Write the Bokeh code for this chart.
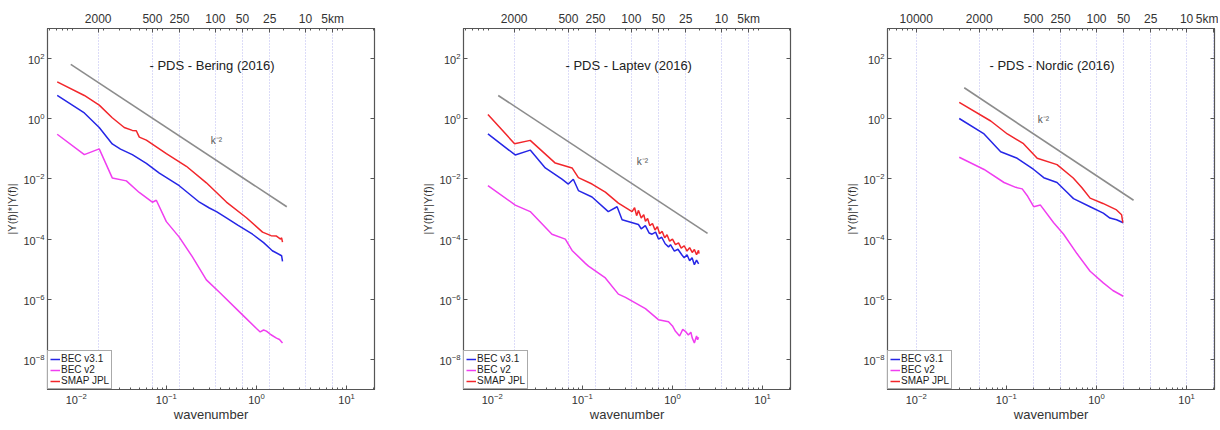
from bokeh.plotting import figure
from bokeh.models import (LogAxis, FixedTicker, CustomJSTickFormatter, Label,
                          Legend, LegendItem, Range1d, Spacer)
from bokeh.layouts import row, column
from bokeh.embed import file_html
from bokeh.resources import INLINE

FONT = "Liberation Sans"
C_BLUE = "#2626e6"
C_MAG = "#f03ef0"
C_RED = "#f2262b"
C_REF = "#8c8c8c"
AX = "#555555"

series_labels = ["BEC v3.1", "BEC v2", "SMAP JPL"]
panel_titles = ["- PDS - Bering (2016)", "- PDS - Laptev (2016)", "- PDS - Nordic (2016)"]
xlabel = "wavenumber"
ylabel = "|Y(f)|*|Y(f)|"
slope_label = "k\u207b\u00b2"

# top axis (wavelength in km) tick positions / labels
top_k_12 = [0.0175, 0.07, 0.14, 0.35, 0.7, 1.4, 3.5, 7.0]
top_lbl_12 = ["2000", "500", "250", "100", "50", "25", "10", "5km"]
top_k_3 = [0.01, 0.05, 0.2, 0.4, 1.0, 2.0, 4.0, 10.0, 20.0]
top_lbl_3 = ["10000", "2000", "500", "250", "100", "50", "25", "10", "5km"]

bottom_ticks = [0.01, 0.1, 1, 10]
y_ticks = [1e-8, 1e-6, 1e-4, 1e-2, 1, 1e2]

# ---------------- Bering ----------------
bering_v31_k = [0.00615, 0.0123, 0.018, 0.0251, 0.031, 0.0419, 0.06, 0.0836, 0.139, 0.233, 0.30, 0.36, 0.464, 0.62, 0.904, 1.2, 1.5, 1.9, 1.945]
bering_v31_y = [5.94, 1.56, 0.513, 0.145, 0.098, 0.064, 0.0328, 0.0156, 0.00594, 0.00168, 0.00108, 0.00082, 5.1e-4, 2.9e-4, 1.45e-4, 7.6e-5, 4.1e-5, 2.8e-5, 1.8e-5]
bering_v2_k = [0.00615, 0.0123, 0.018, 0.0251, 0.036, 0.05, 0.0699, 0.0774, 0.1, 0.139, 0.194, 0.278, 0.388, 0.647, 1.0, 1.1, 1.2, 1.29, 1.45, 1.667, 1.8, 1.945]
bering_v2_y = [0.305, 0.064, 0.1, 0.0108, 0.0086, 0.00355, 0.00168, 0.00195, 3.8e-4, 1.16e-4, 2.6e-5, 4.4e-6, 1.7e-6, 3.8e-7, 1.07e-7, 8.2e-8, 9.5e-8, 8.7e-8, 6.6e-8, 5.1e-8, 4.6e-8, 3.5e-8]
bering_smap_k = [0.00615, 0.0123, 0.018, 0.0251, 0.0341, 0.0419, 0.0464, 0.0501, 0.06, 0.1, 0.1667, 0.278, 0.464, 0.774, 1.167, 1.45, 1.667, 1.85, 1.9, 1.945]
bering_smap_y = [16.8, 5.94, 2.83, 1.08, 0.513, 0.41, 0.4, 0.244, 0.195, 0.069, 0.0263, 0.00741, 0.0017, 5.13e-4, 1.7e-4, 1.3e-4, 1.26e-4, 1.0e-4, 1.1e-4, 7.9e-5]
bering_ref_k = [0.0087, 2.17]
bering_ref_y = [64.0, 0.00119]
bering_slope_pos = (0.36, 0.195)

# ---------------- Laptev ----------------
laptev_v31_k = [0.00896, 0.018, 0.0264, 0.0388, 0.0594, 0.0699, 0.0794, 0.0904, 0.128, 0.194, 0.243, 0.276, 0.419, 0.45, 0.5, 0.55, 0.594, 0.65, 0.7, 0.76, 0.83, 0.904, 0.95, 1.05, 1.15, 1.28, 1.35, 1.45, 1.55, 1.65, 1.75, 1.85, 1.95]
laptev_v31_y = [0.312, 0.0626, 0.0908, 0.0232, 0.00977, 0.00675, 0.00977, 0.0041, 0.0025, 8.2e-4, 1.19e-3, 4.4e-4, 3.05e-4, 2.2e-4, 2.8e-4, 1.6e-4, 1.45e-4, 1.7e-4, 1.0e-4, 1.15e-4, 7.0e-5, 5.5e-5, 6.5e-5, 4.0e-5, 4.6e-5, 2.9e-5, 2.4e-5, 3.0e-5, 1.9e-5, 2.4e-5, 1.4e-5, 2.0e-5, 1.5e-5]
laptev_v2_k = [0.00896, 0.018, 0.0264, 0.046, 0.0647, 0.0769, 0.108, 0.117, 0.18, 0.251, 0.301, 0.501, 0.698, 0.904, 1.0, 1.08, 1.2, 1.3, 1.39, 1.5, 1.6, 1.656, 1.75, 1.85, 1.9, 1.945]
laptev_v2_y = [0.00594, 0.00135, 8.2e-4, 1.45e-4, 1.0e-4, 4.2e-5, 1.56e-5, 1.26e-5, 5.1e-6, 1.48e-6, 1.16e-6, 4.9e-7, 2.1e-7, 1.8e-7, 1.3e-7, 8.6e-8, 6.0e-8, 1.0e-7, 8.6e-8, 6.5e-8, 8.0e-8, 5.2e-8, 3.5e-8, 6.0e-8, 4.5e-8, 5.5e-8]
laptev_smap_k = [0.00896, 0.0177, 0.0264, 0.0501, 0.0769, 0.0904, 0.128, 0.18, 0.251, 0.356, 0.38, 0.40, 0.42, 0.45, 0.48, 0.501, 0.53, 0.56, 0.60, 0.64, 0.68, 0.72, 0.769, 0.82, 0.87, 0.93, 1.0, 1.08, 1.167, 1.25, 1.35, 1.45, 1.55, 1.656, 1.75, 1.85, 1.945, 1.97]
laptev_smap_y = [1.38, 0.148, 0.191, 0.0336, 0.0232, 0.011, 0.00675, 0.00363, 0.00156, 8.2e-4, 1.1e-3, 6.0e-4, 9.0e-4, 5.0e-4, 6.5e-4, 3.9e-4, 4.8e-4, 2.8e-4, 3.3e-4, 2.0e-4, 2.6e-4, 1.5e-4, 1.8e-4, 1.1e-4, 1.4e-4, 8.5e-5, 1.0e-4, 6.5e-5, 7.5e-5, 5.0e-5, 6.0e-5, 4.0e-5, 5.2e-5, 3.6e-5, 4.5e-5, 3.0e-5, 4.2e-5, 3.3e-5]
laptev_ref_k = [0.01166, 2.45]
laptev_ref_y = [5.94, 1.55e-4]
laptev_slope_pos = (0.464, 0.038)

# ---------------- Nordic ----------------
nordic_v31_k = [0.03, 0.0566, 0.0865, 0.132, 0.201, 0.26, 0.365, 0.471, 0.556, 0.85, 1.19, 1.41, 1.67, 1.98]
nordic_v31_y = [1.02, 0.312, 0.08, 0.0486, 0.0206, 0.011, 0.0076, 0.00361, 0.00221, 0.00119, 7.3e-4, 5.0e-4, 4.4e-4, 3.5e-4]
nordic_v2_k = [0.03, 0.0566, 0.0942, 0.127, 0.15, 0.17, 0.201, 0.239, 0.335, 0.432, 0.607, 0.85, 1.19, 1.52, 1.98]
nordic_v2_y = [0.0524, 0.0206, 0.0076, 0.00525, 0.00467, 0.00282, 0.00119, 0.00135, 3.5e-4, 1.45e-4, 3.3e-5, 8.5e-6, 3.5e-6, 1.95e-6, 1.26e-6]
nordic_smap_k = [0.03, 0.0671, 0.1026, 0.155, 0.22, 0.365, 0.552, 0.69, 0.85, 1.18, 1.67, 1.9, 1.96]
nordic_smap_y = [3.53, 0.843, 0.312, 0.148, 0.0486, 0.0298, 0.0107, 0.0051, 0.0023, 0.00153, 9.3e-4, 6.4e-4, 3.5e-4]
nordic_ref_k = [0.0341, 2.58]
nordic_ref_y = [10.7, 0.00195]
nordic_slope_pos = (0.258, 0.93)

title_pos = (0.065, 59.0)


def minor_positions():
    out = []
    for e in range(-3, 2):
        for m in range(2, 10):
            out.append(m * 10.0 ** e)
    return out


def make_panel(title, v31, v2, smap, ref, slope_pos, top_k, top_lbl, border_right):
    p = figure(x_axis_type="log", y_axis_type="log",
               x_range=Range1d(0.0048, 20.4), y_range=Range1d(1e-9, 1e3),
               frame_width=327, frame_height=361,
               min_border_left=39, min_border_right=border_right,
               min_border_top=0, min_border_bottom=0,
               output_backend="svg", toolbar_location=None,
               background_fill_color="white", border_fill_color="white",
               outline_line_color=AX, outline_line_width=1.2)

    minors = minor_positions()
    bax = p.below[0]
    bax.ticker = FixedTicker(ticks=bottom_ticks, minor_ticks=minors)
    lax = p.left[0]
    lax.ticker = FixedTicker(ticks=y_ticks, minor_ticks=[])

    fmt_top = CustomJSTickFormatter(args=dict(ks=top_k, labels=top_lbl), code="""
        let best = 0;
        for (let i = 0; i < ks.length; i++) {
            if (Math.abs(Math.log(ks[i] / tick)) < Math.abs(Math.log(ks[best] / tick))) best = i;
        }
        return labels[best];
    """)
    tax = LogAxis(ticker=FixedTicker(ticks=top_k, minor_ticks=minors), formatter=fmt_top)
    rax = LogAxis(ticker=FixedTicker(ticks=y_ticks, minor_ticks=[]),
                  formatter=CustomJSTickFormatter(code="return ''"))
    p.add_layout(tax, "above")
    p.add_layout(rax, "right")

    for ax in (bax, lax, tax, rax):
        ax.axis_line_color = AX
        ax.major_tick_line_color = AX
        ax.minor_tick_line_color = AX
        ax.major_tick_in = 4
        ax.major_tick_out = 0
        ax.minor_tick_in = 2
        ax.minor_tick_out = 0
        ax.major_label_text_font = FONT
        ax.major_label_text_font_size = "11px"
        ax.major_label_text_color = "#333333"
        ax.major_label_standoff = 3
    rax.major_label_standoff = 0
    tax.major_label_text_font_size = "12px"

    bax.axis_label = xlabel
    bax.axis_label_text_font = FONT
    bax.axis_label_text_font_size = "13px"
    bax.axis_label_text_font_style = "normal"
    bax.axis_label_text_color = "#333333"
    bax.axis_label_standoff = 0
    lax.axis_label = ylabel
    lax.axis_label_text_font = FONT
    lax.axis_label_text_font_size = "11px"
    lax.axis_label_text_font_style = "normal"
    lax.axis_label_text_color = "#333333"
    lax.axis_label_standoff = 2

    p.xgrid[0].ticker = FixedTicker(ticks=top_k)
    p.xgrid[0].grid_line_color = "#b8b8f0"
    p.xgrid[0].grid_line_dash = "1 2"
    p.xgrid[0].grid_line_width = 1
    p.ygrid[0].visible = False

    p.line(ref[0], ref[1], line_color=C_REF, line_width=1.6)
    r1 = p.line(v31[0], v31[1], line_color=C_BLUE, line_width=1.5)
    r2 = p.line(v2[0], v2[1], line_color=C_MAG, line_width=1.5)
    r3 = p.line(smap[0], smap[1], line_color=C_RED, line_width=1.5)

    p.add_layout(Label(x=title_pos[0], y=title_pos[1], text=title, text_font=FONT,
                       text_font_size="13px", text_color="#222222",
                       text_align="left", text_baseline="middle"))
    p.add_layout(Label(x=slope_pos[0], y=slope_pos[1], text=slope_label, text_font=FONT,
                       text_font_size="10px", text_color="#555555",
                       text_align="center", text_baseline="middle"))

    legend = Legend(items=[LegendItem(label=series_labels[0], renderers=[r1]),
                           LegendItem(label=series_labels[1], renderers=[r2]),
                           LegendItem(label=series_labels[2], renderers=[r3])],
                    location="bottom_left", margin=0, padding=2, spacing=0,
                    label_text_font=FONT, label_text_font_size="10px",
                    label_text_color="#222222", label_height=10, label_standoff=1,
                    glyph_height=10, glyph_width=10,
                    border_line_color=AX, border_line_width=1,
                    background_fill_color="white", background_fill_alpha=1)
    p.add_layout(legend)
    return p


p1 = make_panel(panel_titles[0], (bering_v31_k, bering_v31_y), (bering_v2_k, bering_v2_y),
                (bering_smap_k, bering_smap_y), (bering_ref_k, bering_ref_y), bering_slope_pos,
                top_k_12, top_lbl_12, 45)
p2 = make_panel(panel_titles[1], (laptev_v31_k, laptev_v31_y), (laptev_v2_k, laptev_v2_y),
                (laptev_smap_k, laptev_smap_y), (laptev_ref_k, laptev_ref_y), laptev_slope_pos,
                top_k_12, top_lbl_12, 53)
p3 = make_panel(panel_titles[2], (nordic_v31_k, nordic_v31_y), (nordic_v2_k, nordic_v2_y),
                (nordic_smap_k, nordic_smap_y), (nordic_ref_k, nordic_ref_y), nordic_slope_pos,
                top_k_3, top_lbl_3, 4)

layout = column(Spacer(height=8), row(Spacer(width=3), p1, p2, p3))
open("out.html", "w").write(file_html(layout, INLINE))
